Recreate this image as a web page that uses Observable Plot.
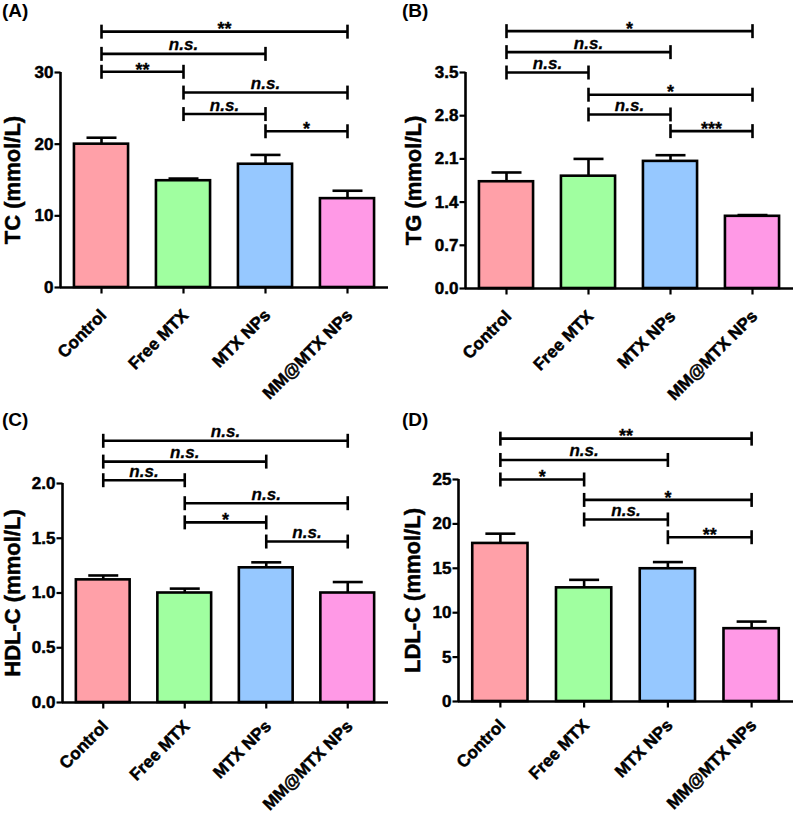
<!DOCTYPE html>
<html><head><meta charset="utf-8">
<script src="https://cdn.jsdelivr.net/npm/d3@7"></script>
<script src="https://cdn.jsdelivr.net/npm/@observablehq/plot@0.6"></script>
<style>
body{margin:0;background:#fff;}
#root{position:relative;width:796px;height:819px;font-family:"Liberation Sans",Arial,sans-serif;overflow:hidden;}
.panel{position:absolute;}
.plabel{position:absolute;font-weight:bold;font-size:19px;line-height:1;color:#000;}
</style></head><body><div id="root"></div>
<script>
// ---------- data ----------
const categories = ["Control", "Free MTX", "MTX NPs", "MM@MTX NPs"];
const colors = ["#FFA0A8", "#A0FFA0", "#96C8FF", "#FF99E6"];

// comparison pairs (category indices) shared by all panels
const pairA = [0, 0, 0, 1, 1, 2];
const pairB = [3, 2, 1, 3, 2, 3];

// (A) TC
const tcMean = [20.0, 14.9, 17.2, 12.4];
const tcErr = [0.9, 0.3, 1.3, 1.1];
const tcTicks = [0, 10, 20, 30];
const tcSig = ["**", "n.s.", "**", "n.s.", "n.s.", "*"];
const tcSigLevel = [35.7, 32.6, 30.1, 27.2, 24.2, 21.8];

// (B) TG
const tgMean = [1.73, 1.82, 2.06, 1.17];
const tgErr = [0.15, 0.28, 0.10, 0.02];
const tgTicks = [0, 0.7, 1.4, 2.1, 2.8, 3.5];
const tgSig = ["*", "n.s.", "n.s.", "*", "n.s.", "***"];
const tgSigLevel = [4.17, 3.83, 3.50, 3.14, 2.82, 2.55];

// (C) HDL-C
const hdlMean = [1.12, 1.00, 1.23, 1.00];
const hdlErr = [0.04, 0.04, 0.05, 0.10];
const hdlTicks = [0, 0.5, 1.0, 1.5, 2.0];
const hdlSig = ["n.s.", "n.s.", "n.s.", "n.s.", "*", "n.s."];
const hdlSigLevel = [2.39, 2.20, 2.03, 1.82, 1.645, 1.47];

// (D) LDL-C
const ldlMean = [17.8, 12.8, 14.95, 8.2];
const ldlErr = [1.1, 0.9, 0.75, 0.8];
const ldlTicks = [0, 5, 10, 15, 20, 25];
const ldlSig = ["**", "n.s.", "*", "*", "n.s.", "**"];
const ldlSigLevel = [29.6, 27.2, 25.0, 22.7, 20.5, 18.5];

// ---------- drawing ----------
const root = document.getElementById("root");
const hline = (w) => ({draw(ctx) { ctx.moveTo(-w, 0); ctx.lineTo(w, 0); }});
const vline = (h) => ({draw(ctx) { ctx.moveTo(0, -h); ctx.lineTo(0, h); }});
const ytickSym = {draw(ctx) { ctx.moveTo(0, 0); ctx.lineTo(-6, 0); }};
const xtickSym = {draw(ctx) { ctx.moveTo(0, 0); ctx.lineTo(0, 6); }};
const FONT = "'Liberation Sans', Arial, sans-serif";
const heavy = {fill: "#000", stroke: "#000", strokeWidth: 0.5, fontWeight: "bold"};

function panel(cfg) {
  const rows = categories.map((c, i) => ({i, cat: c, mean: cfg.mean[i], top: cfg.mean[i] + cfg.err[i], color: colors[i]}));
  const sig = cfg.sig.map((t, k) => ({a: pairA[k], b: pairB[k], mid: (pairA[k] + pairB[k]) / 2, level: cfg.level[k], text: t}));
  const ends = sig.flatMap(s => [{x: s.a, y: s.level}, {x: s.b, y: s.level}]);
  const ymax = cfg.ticks[cfg.ticks.length - 1];
  const sw = 2.6;
  const chart = Plot.plot({
    width: cfg.width, height: cfg.height,
    marginLeft: cfg.ml, marginRight: cfg.mr, marginTop: cfg.mt, marginBottom: cfg.mb,
    style: {fontFamily: FONT, background: "transparent", overflow: "visible"},
    x: {domain: [-0.5, 3.5], axis: null},
    y: {domain: [0, ymax], axis: null},
    marks: [
      Plot.ruleX(rows, {x: "i", y1: "mean", y2: "top", stroke: "#000", strokeWidth: sw}),
      Plot.dot(rows, {x: "i", y: "top", symbol: hline(15), fill: "none", stroke: "#000", strokeWidth: sw}),
      Plot.rectY(rows, {x1: d => d.i - 0.33, x2: d => d.i + 0.33, y1: 0, y2: "mean", fill: "color", stroke: "#000", strokeWidth: sw}),
      Plot.ruleY([0], {stroke: "#000", strokeWidth: sw}),
      Plot.ruleX([-0.5], {y1: 0, y2: ymax, stroke: "#000", strokeWidth: sw}),
      // y ticks + labels
      Plot.dot(cfg.ticks, {x: () => -0.5, y: d => d, symbol: ytickSym, fill: "none", stroke: "#000", strokeWidth: 2.2}),
      Plot.text(cfg.ticks, {x: () => -0.5, y: d => d, text: cfg.fmt, textAnchor: "end", dx: -7, fontSize: 17, ...heavy}),
      // x ticks + labels
      Plot.dot(rows, {x: "i", y: () => 0, symbol: xtickSym, fill: "none", stroke: "#000", strokeWidth: 2.2}),
      Plot.text(rows, {x: "i", y: () => 0, text: "cat", rotate: -45, textAnchor: "end", dx: 2, dy: cfg.xdy, fontSize: 17, ...heavy}),
      // significance brackets
      Plot.ruleY(sig, {x1: "a", x2: "b", y: "level", stroke: "#000", strokeWidth: sw}),
      Plot.dot(ends, {x: "x", y: "y", symbol: vline(7), fill: "none", stroke: "#000", strokeWidth: sw}),
      Plot.text(sig.filter(s => s.text === "n.s."), {x: "mid", y: "level", text: "text", fontSize: 17, fontStyle: "italic", dy: -9, ...heavy, strokeWidth: 0.3}),
      Plot.text(sig.filter(s => s.text !== "n.s."), {x: "mid", y: "level", text: "text", fontSize: 18, dy: -2, ...heavy, strokeWidth: 0.3}),
      Plot.text([cfg.ylabel], {frameAnchor: "left", textAnchor: "middle", text: d => d, rotate: -90, fontSize: 22, dx: cfg.ylx - cfg.ml, dy: 0, ...heavy})
    ]
  });
  const box = document.createElement("div");
  box.className = "panel";
  box.style.left = cfg.left + "px";
  box.style.top = cfg.top + "px";
  box.appendChild(chart);
  root.appendChild(box);
  const lab = document.createElement("div");
  lab.className = "plabel";
  lab.textContent = cfg.letter;
  lab.style.left = (cfg.left + 2) + "px";
  lab.style.top = (cfg.top + cfg.lt) + "px";
  root.appendChild(lab);
}

const f0 = d3.format("d"), f1 = d3.format(".1f");
panel({left: 0, top: 0, width: 398, height: 405, ml: 60, mr: 10, mt: 72, mb: 118, ylx: 12, lt: 1, xdy: 25,
  mean: tcMean, err: tcErr, ticks: tcTicks, fmt: f0, sig: tcSig, level: tcSigLevel, ylabel: "TC (mmol/L)", letter: "(A)"});
panel({left: 400, top: 0, width: 396, height: 405, ml: 65, mr: 3, mt: 72, mb: 117, ylx: 13, lt: 1, xdy: 25,
  mean: tgMean, err: tgErr, ticks: tgTicks, fmt: f1, sig: tgSig, level: tgSigLevel, ylabel: "TG (mmol/L)", letter: "(B)"});
panel({left: 0, top: 405, width: 398, height: 414, ml: 62, mr: 10, mt: 78, mb: 117, ylx: 12, lt: 5, xdy: 21,
  mean: hdlMean, err: hdlErr, ticks: hdlTicks, fmt: f1, sig: hdlSig, level: hdlSigLevel, ylabel: "HDL-C (mmol/L)", letter: "(C)"});
panel({left: 400, top: 405, width: 396, height: 414, ml: 58, mr: 3, mt: 74, mb: 118, ylx: 12, lt: 5, xdy: 21,
  mean: ldlMean, err: ldlErr, ticks: ldlTicks, fmt: f0, sig: ldlSig, level: ldlSigLevel, ylabel: "LDL-C (mmol/L)", letter: "(D)"});
</script></body></html>
